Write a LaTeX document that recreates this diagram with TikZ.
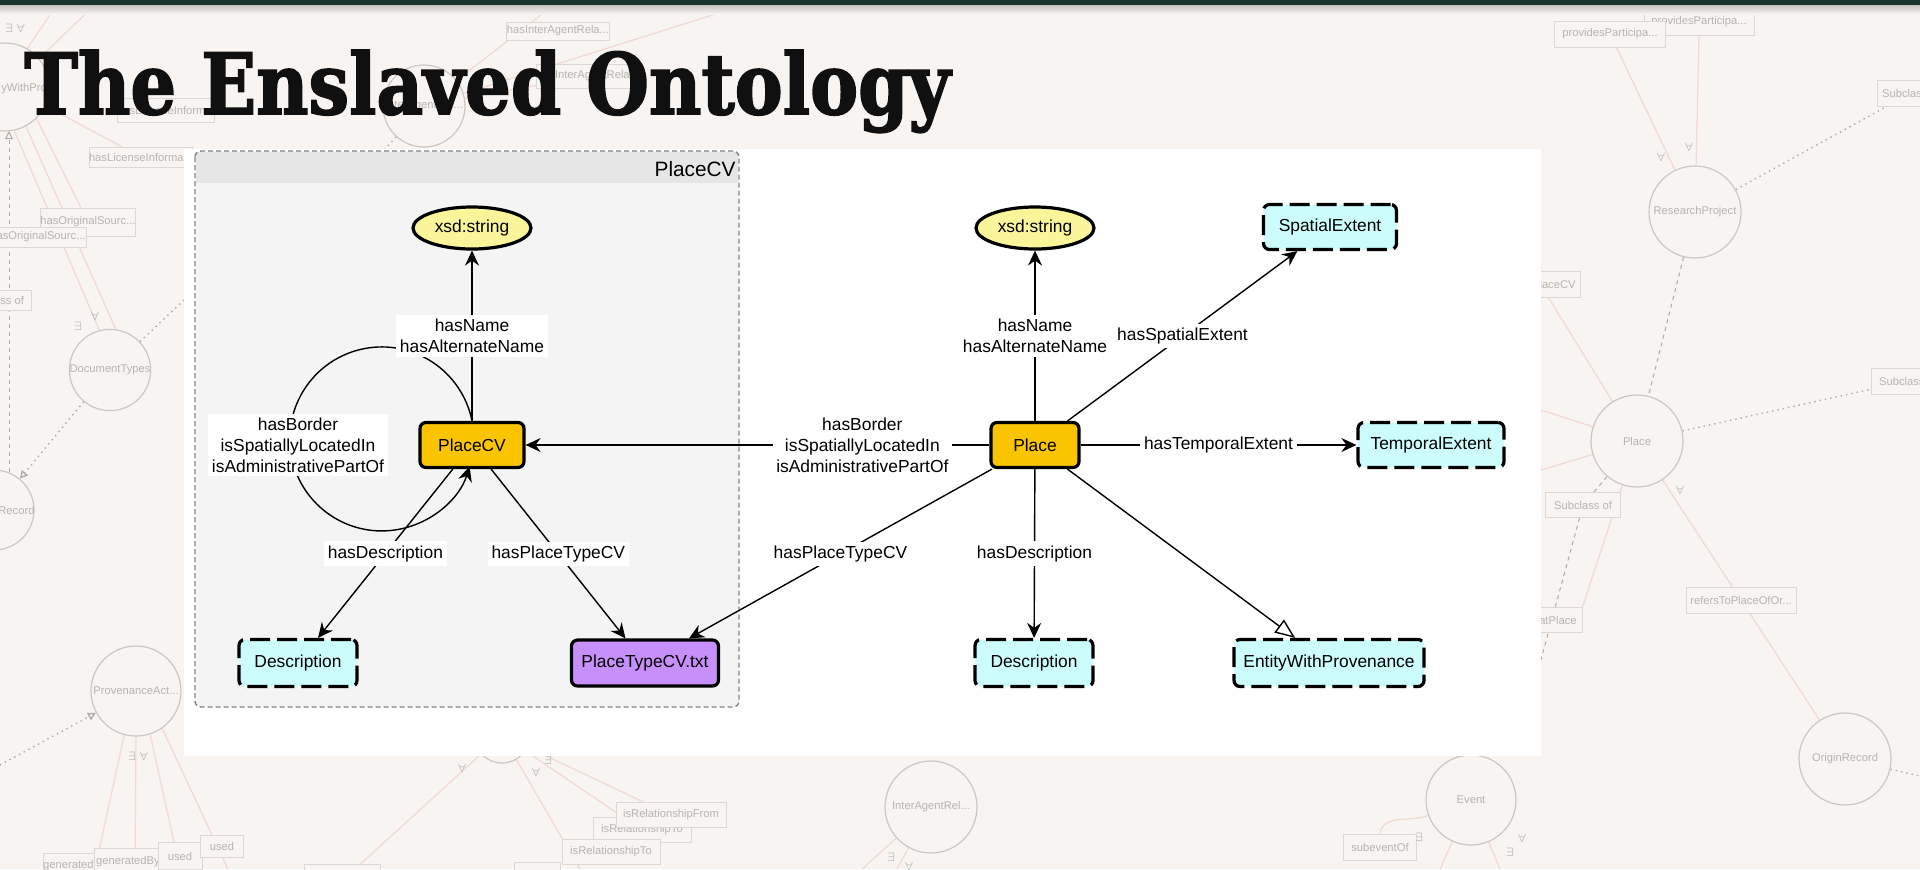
\documentclass[tikz,border=0pt]{standalone}
\usepackage{graphicx}
\usepackage{fontspec}
\setmainfont{Liberation Sans}
\newfontfamily\titlefont{DejaVu Serif}[BoldFeatures={FakeBold=2.2}]
\usetikzlibrary{arrows.meta,shapes.geometric}
\pgfdeclarelayer{flines}
\pgfdeclarelayer{fnodes}
\pgfsetlayers{flines,fnodes,main}
\definecolor{bgc}{HTML}{F7F4F1}
\definecolor{barc}{HTML}{17352F}
\definecolor{titlec}{HTML}{101010}
\definecolor{gold}{HTML}{FAC400}
\definecolor{cyanf}{HTML}{CCFCFC}
\definecolor{purp}{HTML}{C78FFA}
\definecolor{yel}{HTML}{FAF59A}
\definecolor{clfill}{HTML}{F4F4F4}
\definecolor{clhead}{HTML}{E6E6E6}
\definecolor{clline}{HTML}{858585}
\definecolor{fcircc}{HTML}{CCC7C2}
\definecolor{flinec}{HTML}{F2D9D1}
\definecolor{ftext}{HTML}{B8B4B0}
\definecolor{fboxc}{HTML}{DDD8D3}
\definecolor{fdotc}{HTML}{B0ABA6}
\tikzset{
  dtext/.style={font=\fontsize{8.7}{10.5}\selectfont},
  lbl/.style={dtext, fill=white, inner xsep=1.8pt, inner ysep=2pt, align=center},
  cls/.style={dtext, rectangle, draw=black, line width=1.6pt, rounded corners=3pt, minimum height=22.5pt, inner sep=0pt},
  solidbox/.style={cls, fill=gold},
  dashbox/.style={cls, fill=cyanf, dash pattern=on 10pt off 3.5pt},
  lit/.style={dtext, ellipse, draw=black, line width=1.6pt, fill=yel, minimum width=59pt, minimum height=21pt, inner sep=0pt},
  arr/.style={line width=0.7pt, -{Stealth[length=7.5pt,width=7pt,inset=2.5pt]}},
  inh/.style={line width=0.7pt, -{Triangle[open,length=10pt,width=8pt,fill=white]}},
  fcirc/.style={circle, draw=fcircc, line width=0.6pt, inner sep=0pt, text=ftext, font=\fontsize{5.6}{6}\selectfont},
  fbox/.style={rectangle, draw=fboxc, line width=0.5pt, fill=bgc, text=ftext, font=\fontsize{5.6}{6}\selectfont, inner sep=0pt, minimum height=12pt},
  ftxt/.style={text=ftext, font=\fontsize{5.6}{6}\selectfont, inner sep=0pt},
  fln/.style={draw=flinec, line width=0.6pt},
  fdot/.style={draw=fdotc, line width=0.7pt, dotted},
  fdash/.style={draw=fdotc, line width=0.5pt, dash pattern=on 2pt off 2pt},
  fq/.style={text=ftext, font=\fontsize{6}{6}\selectfont, inner sep=0pt},
  ftip/.style={-{Triangle[open,length=4pt,width=4pt]}}
}
\begin{document}
\begin{tikzpicture}[x=0.5pt,y=-0.5pt]
\useasboundingbox (0,0) rectangle (1920,869);
\clip (0,0) rectangle (1920,869);
\begin{pgfonlayer}{flines}
\fill[bgc] (0,0) rectangle (1920,869);
\end{pgfonlayer}
% ---------- faint background graph ----------
\begin{pgfonlayer}{fnodes}
\node[fcirc, minimum size=44pt] (c1) at (5,87) {};
\node[ftxt, anchor=west] (c1t) at (1,89) {yWithPro...};
\node[fcirc, minimum size=41pt] (c2) at (424,106) {InterAgentRel...};
\node[fcirc, minimum size=40pt] (c3) at (110,370) {DocumentTypes};
\node[fcirc, minimum size=40pt] (c4) at (-6,510) {};
\node[ftxt, anchor=west] (c4t) at (-2,510) {Record};
\node[fcirc, minimum size=45pt] (c5) at (136,691) {ProvenanceAct...};
\node[fcirc, minimum size=28pt] (c6) at (502,735) {};
\node[fcirc, minimum size=46pt] (c7) at (931,807) {InterAgentRel...};
\node[fcirc, minimum size=46pt] (c8) at (1695,212) {ResearchProject};
\node[fcirc, minimum size=46pt] (c9) at (1637,441) {Place};
\node[fcirc, minimum size=46pt] (c10) at (1845,759) {OriginRecord};
\node[fcirc, minimum size=45pt] (c11) at (1471,800) {Event};
\node[fbox, minimum width=47.5pt, minimum height=9pt] (b1) at (558,31) {hasInterAgentRela...};
\node[fbox, minimum width=43pt] (b2) at (588,76) {hasInterAgentRela...};
\node[fbox, minimum width=48pt] (b4) at (166,110) {hasLicenseInform...};
\node[fbox, minimum width=46pt, minimum height=10pt] (b3) at (141,157) {hasLicenseInforma...};
\node[fbox, minimum width=47.5pt, minimum height=14pt] (b5) at (88,222) {hasOriginalSourc...};
\node[fbox, minimum width=48pt, minimum height=10pt] (b6) at (38,237) {hasOriginalSourc...};
\node[fbox, minimum width=36pt, minimum height=10pt] (b7) at (-5,300) {Subclass of};
\node[fbox, minimum width=23pt, minimum height=13pt] (b9) at (75,866) {generatedBy};
\node[fbox, minimum width=33.5pt, minimum height=13.5pt] (b10) at (128,862) {generatedBy};
\node[fbox, minimum width=22pt, minimum height=13.5pt] (b11) at (180,856) {used};
\node[fbox, minimum width=21.5pt, minimum height=11pt] (b12) at (222,846) {used};
\node[fbox, minimum width=49pt, minimum height=12.5pt] (b13) at (642,830) {isRelationshipTo};
\node[fbox, minimum width=55pt, minimum height=12.5pt] (b14) at (671,815) {isRelationshipFrom};
\node[fbox, minimum width=49pt, minimum height=12.5pt] (b15) at (611,852) {isRelationshipTo};
\node[fbox, minimum width=38pt, minimum height=12pt] (b16) at (342,876) {};
\node[fbox, minimum width=23pt, minimum height=12pt] (b17) at (537,874) {};
\node[fbox, minimum width=55pt, minimum height=13pt] (b18) at (1699,22) {providesParticipa...};
\node[fbox, minimum width=55.5pt, minimum height=13pt] (b19) at (1610,34) {providesParticipa...};
\node[fbox, minimum width=34pt, minimum height=13pt] (b20) at (1911,93) {Subclass of};
\node[fbox, minimum width=40pt, minimum height=13pt] (b21) at (1540,284) {};
\node[ftxt, anchor=east] (b21t) at (1576,284) {PlaceCV};
\node[fbox, minimum width=37pt, minimum height=13pt] (b22) at (1908,381) {Subclass of};
\node[fbox, minimum width=37.5pt, minimum height=12.5pt] (b23) at (1583,505) {Subclass of};
\node[fbox, minimum width=40pt, minimum height=12.5pt] (b24) at (1542,620) {};
\node[ftxt, anchor=east] (b24t) at (1577,620) {atPlace};
\node[fbox, minimum width=55pt, minimum height=13pt] (b25) at (1741,600) {refersToPlaceOfOr...};
\node[fbox, minimum width=36.5pt, minimum height=13pt] (b26) at (1380,847) {subeventOf};
\node[fq] (q1) at (15,28) {$\exists\ \forall$};
\node[fq] (q2) at (78,326) {$\exists$};
\node[fq] (q3) at (95,316) {$\forall$};
\node[fq] (q4) at (138,756) {$\exists\ \forall$};
\node[fq] (q5) at (462,768) {$\forall$};
\node[fq] (q6) at (536,772) {$\forall$};
\node[fq] (q7) at (548,760) {$\exists$};
\node[fq] (q8) at (1661,157) {$\forall$};
\node[fq] (q9) at (1689,147) {$\forall$};
\node[fq] (q10) at (1680,490) {$\forall$};
\node[fq] (q11) at (891,857) {$\exists$};
\node[fq] (q12) at (909,866) {$\forall$};
\node[fq] (q13) at (1419,837) {$\exists$};
\node[fq] (q14) at (1522,838) {$\forall$};
\node[fq] (q15) at (1510,852) {$\exists$};
\end{pgfonlayer}
\begin{pgfonlayer}{flines}
\coordinate (e1) at (100,0);
\coordinate (e2) at (60,0);
\coordinate (e3) at (95,869);
\coordinate (e4) at (135,869);
\coordinate (e5) at (180,869);
\coordinate (e6) at (228,869);
\coordinate (e7) at (355,869);
\coordinate (e8) at (580,869);
\coordinate (e9) at (862,869);
\coordinate (e10) at (897,869);
\coordinate (e11) at (1541,410);
\coordinate (e12) at (1541,470);
\coordinate (e13) at (1440,869);
\coordinate (e14) at (1500,869);
\coordinate (e15) at (184,300);
\coordinate (e16) at (9,472);
\coordinate (e17) at (9,131);
\coordinate (e18) at (0,765);
\coordinate (e19) at (1920,776);
\coordinate (e20) at (1530,700);
\coordinate (e21) at (375,160);
\coordinate (e22) at (760,0);
\coordinate (e23) at (560,0);
\draw[fln] (c1.-78) -- (c3.105);
\draw[fln] (c1.-62) -- (c3.82);
\draw[fln] (c1.40) -- (e1);
\draw[fln] (c1.60) -- (e2);
\draw[fln] (c1.-25) -- (b3);
\draw[fln] (c1.-45) -- (b5);
\draw[fln] (e3) -- (c5.-105);
\draw[fln] (e4) -- (c5.-90);
\draw[fln] (e5) -- (c5.-72);
\draw[fln] (e6) -- (c5.-55);
\draw[fln] (e7) -- (c6);
\draw[fln] (e8) -- (c6);
\draw[fln] (b14) -- (c6);
\draw[fln] (b13) -- (c6);
\draw[fln] (b2) -- (c2);
\draw[fln] (e22) -- (c2);
\draw[fln] (e23) -- (c2);
\draw[fln] (e9) -- (c7);
\draw[fln] (e10) -- (c7);
\draw[fln] (b19) -- (c8);
\draw[fln] (b18.south) -- (c8);
\draw[fln] (e11) -- (c9);
\draw[fln] (e12) -- (c9);
\draw[fln] (b21) -- (c9);
\draw[fln] (b24.north east) -- (c9);
\draw[fln] (c10) -- (c9);
\draw[fln] (e13) -- (c11);
\draw[fln] (e14) -- (c11);
\draw[fln] (b26.north) to[out=80,in=200] (c11);
\draw[fdot] (c3) -- (e15);
\draw[fdot, ftip] (c3) -- (c4);
\draw[fdash, ftip] (e16) -- (e17);
\draw[fdot, ftip] (e18) -- (c5);
\draw[fdot] (c8) -- (b20);
\draw[fdash] (c8) -- (c9);
\draw[fdot] (c9) -- (b22);
\draw[fdash] (c9) -- (b23) -- (e20);
\draw[fdot] (c10) -- (e19);
\draw[fdot] (c2) -- (e21);
\end{pgfonlayer}
% ---------- top bar and title ----------
\shade[top color=bgc!80!black, bottom color=bgc] (0,5) rectangle (1920,14);
\fill[barc] (0,0) rectangle (1920,5);
\node[anchor=base west, inner sep=0pt, text=titlec] (title) at (24,114)
  {\resizebox{463pt}{32pt}{\titlefont\bfseries The Enslaved Ontology}};
% ---------- diagram panel ----------
\fill[white] (184,149) rectangle (1541,756);
\fill[clfill, rounded corners=3pt] (195,151) rectangle (739,707);
\fill[clhead] (196,152) rectangle (738,183);
\draw[clline, line width=0.7pt, dash pattern=on 2.5pt off 1.5pt, rounded corners=3pt] (195,151) rectangle (739,707);
\node[anchor=east, inner sep=0pt, font=\fontsize{10.4}{12}\selectfont] (cltitle) at (736,169) {PlaceCV};
% nodes
\node[lit] (s1) at (472,228) {xsd:string};
\node[solidbox, minimum width=52pt] (pcv) at (472,445) {PlaceCV};
\node[dashbox, minimum width=59pt, minimum height=23.5pt] (d1) at (298,663) {Description};
\node[cls, fill=purp, minimum width=73.5pt, minimum height=23pt] (ptcv) at (645,663) {PlaceTypeCV.txt};
\node[lit] (s2) at (1035,228) {xsd:string};
\node[solidbox, minimum width=44pt] (pl) at (1035,445) {Place};
\node[dashbox, minimum width=66.5pt] (se) at (1330,227) {SpatialExtent};
\node[dashbox, minimum width=73pt] (te) at (1431,445) {TemporalExtent};
\node[dashbox, minimum width=59pt, minimum height=23.5pt] (d2) at (1034,663) {Description};
\node[dashbox, minimum width=95pt, minimum height=23.5pt] (ewp) at (1329,663) {EntityWithProvenance};
% edges
\draw[arr] (pcv.north) arc[start angle=11.3, end angle=342.6, radius=46pt];
\node[lbl] (loopl) at (298,445) {hasBorder\\isSpatiallyLocatedIn\\isAdministrativePartOf};
\draw[arr] (pcv) -- node[lbl] (l1) {hasName\\hasAlternateName} (s1);
\draw[arr] (pcv) -- node[lbl] (l2) {hasDescription} (d1);
\draw[arr] (pcv) -- node[lbl] (l3) {hasPlaceTypeCV} (ptcv);
\draw[arr] (pl) -- node[lbl] (l4) {hasName\\hasAlternateName} (s2);
\draw[arr] (pl) -- node[lbl] (l5) {hasSpatialExtent} (se);
\draw[arr] (pl) -- node[lbl] (l6) {hasTemporalExtent} (te);
\draw[arr] (pl) -- node[lbl, pos=0.274] (l7) {hasBorder\\isSpatiallyLocatedIn\\isAdministrativePartOf} (pcv);
\draw[arr] (pl) -- node[lbl] (l8) {hasPlaceTypeCV} (ptcv);
\draw[arr] (pl) -- node[lbl] (l9) {hasDescription} (d2);
\draw[inh] (pl) -- (ewp);
\end{tikzpicture}
\end{document}
